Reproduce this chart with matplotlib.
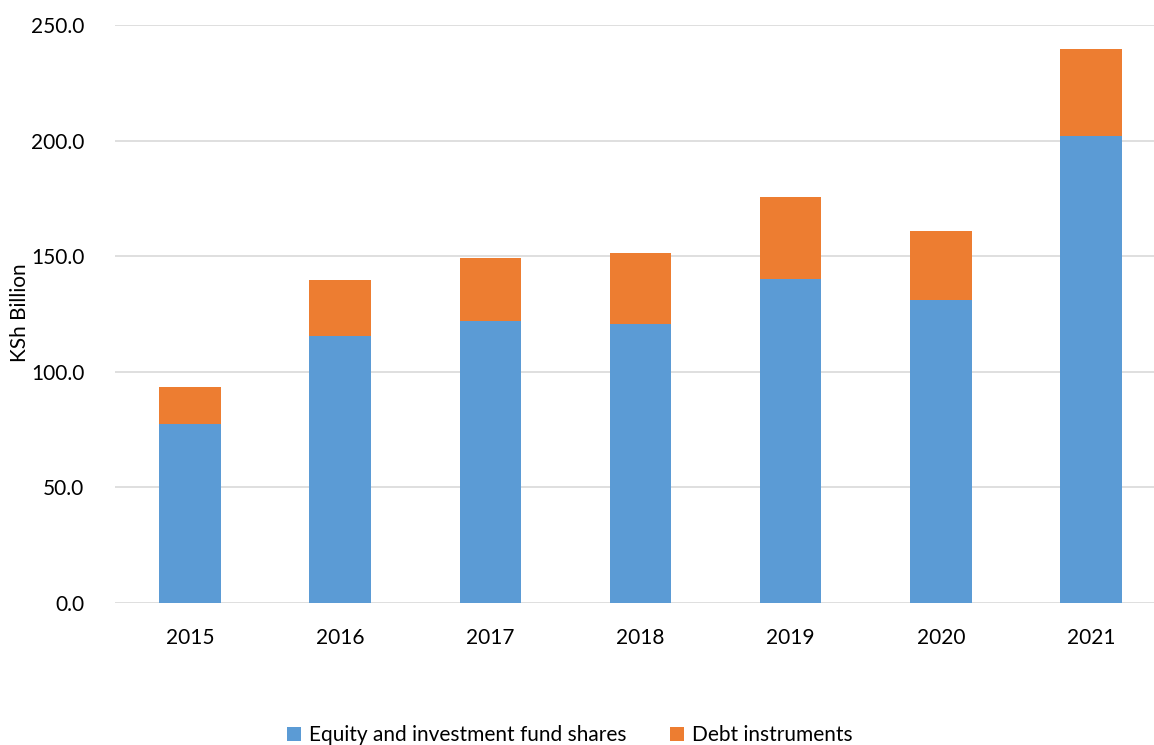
import matplotlib.pyplot as plt
import numpy as np

plt.rcParams["font.family"] = ["Lato", "DejaVu Sans"]

# Data (KSh Billion)
years = ["2015", "2016", "2017", "2018", "2019", "2020", "2021"]
equity = [77.4, 115.5, 122.0, 120.7, 140.1, 131.0, 202.0]
debt = [16.0, 24.2, 27.2, 30.7, 35.5, 29.9, 37.6]

BLUE = "#5B9BD5"
ORANGE = "#ED7D31"

fig = plt.figure(figsize=(11.54, 7.45), dpi=100)
ax = fig.add_axes([115 / 1154, 142 / 745, 1051 / 1154, 578 / 745])

x = np.arange(len(years))
ax.bar(x, equity, width=0.41, color=BLUE, label="Equity and investment fund shares", zorder=2)
ax.bar(x, debt, width=0.41, bottom=equity, color=ORANGE, label="Debt instruments", zorder=2)

ax.set_xlim(-0.5, 6.5)
ax.set_ylim(0, 250)
ax.set_yticks(np.arange(0, 251, 50))
ax.set_yticklabels([f"{v:.1f}" for v in np.arange(0, 251, 50)])
ax.set_xticks(x)
ax.set_xticklabels(years)
ax.tick_params(axis="both", length=0, labelsize=15, colors="black")
ax.tick_params(axis="y", pad=22)
ax.tick_params(axis="x", pad=18)
ax.grid(axis="y", color="#D9D9D9", linewidth=1.2, zorder=0)
for s in ax.spines.values():
    s.set_visible(False)

fig.text(20 / 1154, 1 - 313 / 745, "KSh Billion", rotation=90, fontsize=15,
         ha="center", va="center")

fig.legend(loc="center", bbox_to_anchor=(570 / 1154, 1 - 735 / 745), ncol=2,
           frameon=False, fontsize=15, handlelength=0.65, handleheight=0.65,
           columnspacing=2.1, handletextpad=0.4)

fig.savefig("out.png", dpi=100)
